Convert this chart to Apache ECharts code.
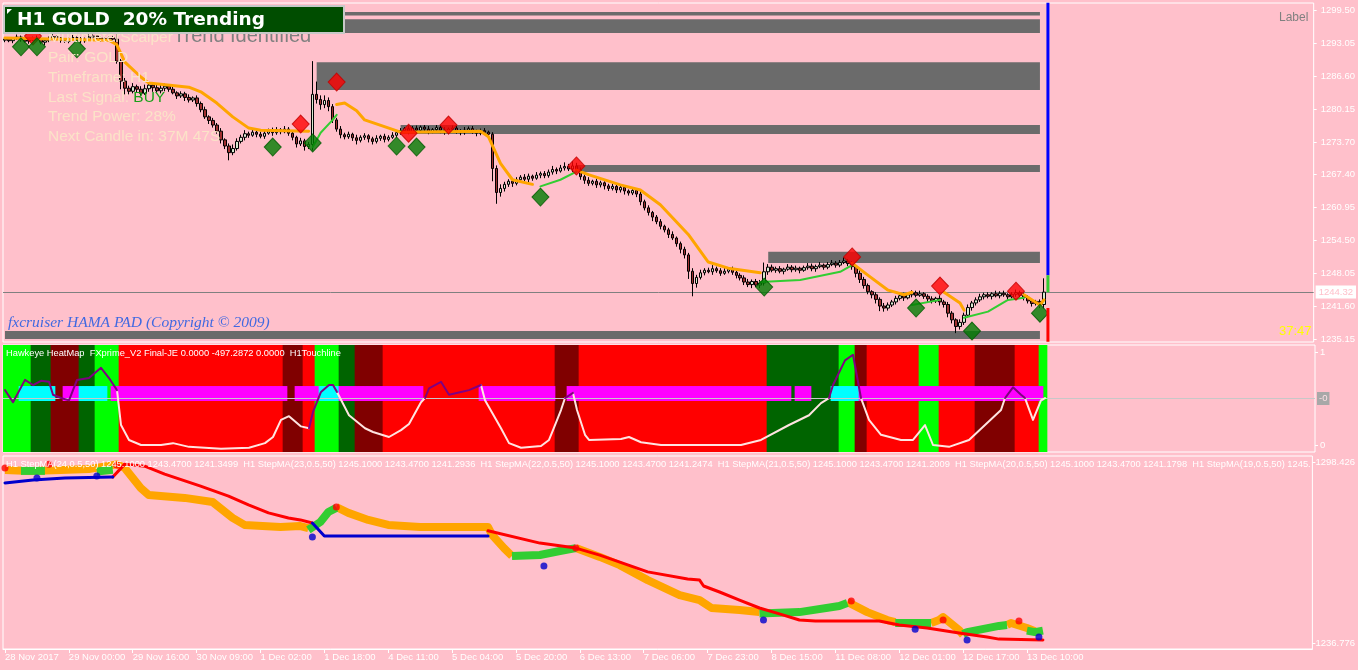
<!DOCTYPE html>
<html><head><meta charset="utf-8">
<script src="https://cdn.jsdelivr.net/npm/echarts@6/dist/echarts.min.js"></script>
<style>html,body{margin:0;padding:0;background:#ffc0cb;}#c{width:1358px;height:670px;}</style>
</head><body><div id="c"></div>
<script>
// ---------------- DATA ----------------
const slotCount = 328;
const categories = [];
for (let i = 0; i < slotCount; i++) categories.push(String(i));
const xTickLabels = ['28 Nov 2017','29 Nov 00:00','29 Nov 16:00','30 Nov 09:00','1 Dec 02:00','1 Dec 18:00','4 Dec 11:00','5 Dec 04:00','5 Dec 20:00','6 Dec 13:00','7 Dec 06:00','7 Dec 23:00','8 Dec 15:00','11 Dec 08:00','12 Dec 01:00','12 Dec 17:00','13 Dec 10:00'];
const priceTicks = [1299.50,1293.05,1286.60,1280.15,1273.70,1267.40,1260.95,1254.50,1248.05,1241.60,1235.15];
const heatTicks = [0, 1];
const stepTicks = [1236.776, 1298.426];
const currentPrice = 1244.32;
const firstOpen = 1293.6;

const closes = [
1293.8,1293.5,1293.9,1294.2,1293.7,1293.4,1293.6,1294.0,1293.8,1293.2,
1293.5,1293.9,1294.3,1294.0,1293.6,1293.4,1293.8,1294.1,1293.9,1293.5,
1293.7,1294.2,1294.4,1294.0,1293.7,1293.9,1294.1,1293.8,
1289.5,1285.6,1284.2,1283.6,1284.5,1284.0,1283.2,1284.1,1284.8,1284.3,1283.7,1284.2,1284.6,
1284.0,1283.3,1282.7,1283.1,1282.4,1281.9,1282.3,1281.2,1280.0,1278.6,1277.9,1277.0,
1275.8,1274.1,1272.9,1271.6,1272.4,1273.8,
1274.6,1275.3,1275.0,1275.6,1275.2,1274.8,1275.4,1275.9,1275.5,1276.1,1275.7,1276.2,
1275.4,1274.6,1273.3,1273.9,1272.8,1273.2,1283.0,1282.0,1281.0,1281.8,1280.6,1278.0,1276.2,1275.1,
1274.7,1275.2,1274.5,1274.0,1274.6,1274.9,1274.3,1273.8,1274.4,1274.8,1274.2,1274.6,1275.0,1275.5,
1275.9,1276.3,1275.8,1276.4,1276.0,1276.6,1276.2,1275.7,1276.1,1276.5,
1276.0,1275.6,1276.2,1276.4,1275.9,1275.5,1276.0,1276.3,1275.8,1275.4,
1275.9,1275.6,1275.2,
1268.5,1263.8,1264.6,1265.4,1266.0,1265.6,1266.3,1266.8,1266.4,1267.0,1266.6,1267.2,1267.5,1267.1,
1267.8,1268.3,1268.0,1268.6,1268.9,1268.4,1269.0,1268.2,1266.9,1266.2,1265.6,1266.0,1265.3,1265.7,1265.1,
1264.6,1265.0,1264.3,1264.8,1264.1,1263.7,1264.2,1263.5,1262.0,1260.8,1259.9,1259.0,1258.1,
1257.2,1256.5,1255.6,1254.9,1253.8,1252.7,1251.6,1248.4,1246.0,1247.2,
1248.1,1248.6,1248.3,1248.9,1248.5,1248.0,1248.4,1248.8,1248.2,1247.6,1247.1,1246.3,1245.8,1246.4,1245.7,1246.1,
1248.3,1249.2,1248.6,1248.9,1248.4,1248.8,1249.2,1248.7,1249.0,1248.6,1249.1,1249.4,1248.9,1249.3,1249.6,1249.2,1249.7,1250.0,1249.6,1250.1,1250.4,1249.9,
1249.3,1248.0,1246.8,1245.6,1244.4,1243.8,1242.9,1241.6,1241.2,1241.8,1242.4,
1243.1,1243.6,1243.2,1243.8,1244.2,1243.7,1244.0,1243.5,1243.0,1242.6,1243.1,1242.4,1241.9,
1240.2,1238.9,1237.6,1238.4,1239.8,1241.3,1242.2,1242.8,1243.4,
1243.8,1243.5,1244.0,1243.6,1244.1,1243.8,1243.4,1243.9,1244.2,1243.7,1243.3,1242.6,1242.1,1242.5,1241.9,1244.32
];
const wickUp = [
0.3,0.4,0.2,0.5,0.3,0.2,0.4,0.3,0.5,0.3,
0.2,0.4,0.6,0.3,0.2,0.4,0.3,0.5,0.2,0.3,
0.4,0.6,0.3,0.2,0.4,0.3,0.5,0.4,
1.8,0.4,0.6,0.5,0.7,0.4,0.6,0.8,0.5,0.4,0.6,0.7,0.5,
0.4,0.6,0.3,0.5,0.4,0.6,0.3,0.5,0.4,0.6,0.3,0.5,
0.4,0.6,0.3,0.5,0.8,0.6,
0.5,0.7,0.4,0.6,0.3,0.5,0.7,0.4,0.6,0.5,0.3,0.6,
0.4,0.5,0.3,0.6,0.4,0.5,6.5,2.5,0.8,1.0,0.6,0.5,0.4,0.6,
0.4,0.5,0.3,0.6,0.4,0.5,0.3,0.4,0.6,0.3,0.5,0.4,0.6,0.4,
0.5,0.3,0.6,0.4,0.5,0.3,0.4,0.6,0.3,0.5,
0.4,0.6,0.3,0.5,0.4,0.3,0.6,0.4,0.5,0.3,
0.4,0.5,0.3,
0.4,0.6,0.8,0.5,0.4,0.6,0.5,0.4,0.6,0.5,0.3,0.6,0.4,0.5,
0.5,0.7,0.4,0.6,0.8,0.5,0.9,0.6,0.5,0.4,0.6,0.3,0.5,0.4,0.3,
0.4,0.5,0.3,0.6,0.4,0.3,0.5,0.4,0.6,0.4,0.5,0.3,0.4,
0.5,0.3,0.4,0.6,0.3,0.4,0.5,0.4,0.6,0.5,
0.6,0.4,0.5,0.7,0.4,0.5,0.6,0.4,0.5,0.3,0.4,0.5,0.6,0.4,0.5,0.6,
1.8,0.6,0.5,0.4,0.5,0.3,0.6,0.4,0.5,0.3,0.4,0.6,0.5,0.4,0.6,0.3,0.5,0.6,0.4,0.5,0.7,0.4,
0.5,0.4,0.6,0.5,0.4,0.3,0.5,0.4,0.6,0.5,0.4,
0.5,0.4,0.6,0.3,0.5,0.4,0.6,0.3,0.4,0.5,0.3,0.6,0.4,
0.5,0.4,0.3,0.6,0.5,0.6,0.4,0.5,0.6,
0.4,0.5,0.3,0.6,0.4,0.5,0.3,0.4,0.6,0.4,0.5,0.4,0.5,0.3,0.4,2.7
];
const wickDn = [
0.4,0.3,0.5,0.2,0.4,0.3,0.5,0.2,0.3,0.4,
0.6,0.3,0.2,0.4,0.5,0.3,0.4,0.2,0.3,0.5,
0.4,0.2,0.3,0.5,0.4,0.3,0.2,0.4,
0.5,1.6,1.2,0.6,0.4,0.7,0.5,0.3,0.6,0.8,0.4,0.5,0.6,
0.5,0.3,0.6,0.4,0.7,0.5,0.4,0.6,0.5,0.4,0.7,0.5,
0.5,0.7,0.6,1.5,0.5,0.4,
0.4,0.6,0.5,0.3,0.6,0.4,0.5,0.3,0.6,0.4,0.5,0.3,
0.5,0.6,0.7,0.4,0.8,0.5,1.2,0.8,1.0,0.7,0.9,0.6,0.5,0.7,
0.5,0.4,0.6,0.8,0.4,0.5,0.7,0.6,0.4,0.5,0.6,0.4,0.3,0.5,
0.4,0.5,0.6,0.3,0.5,0.4,0.6,0.5,0.3,0.4,
0.6,0.5,0.4,0.3,0.6,0.5,0.4,0.3,0.5,0.6,
0.4,0.3,0.5,
2.5,2.2,0.8,0.6,0.5,0.7,0.4,0.5,0.4,0.6,0.5,0.3,0.6,0.5,
0.4,0.5,0.6,0.3,0.5,0.4,0.6,0.5,0.6,0.7,0.5,0.4,0.6,0.5,0.7,
0.5,0.4,0.6,0.5,0.7,0.5,0.4,0.6,0.7,0.5,0.6,0.8,0.5,
0.6,0.5,0.7,0.4,0.6,0.8,0.7,1.5,2.5,0.8,
0.4,0.5,0.3,0.6,0.4,0.5,0.3,0.4,0.5,0.6,0.5,0.6,0.5,0.7,0.4,0.6,
0.5,0.6,0.4,0.5,0.4,0.6,0.3,0.5,0.4,0.6,0.3,0.4,0.5,0.6,0.3,0.5,0.4,0.3,0.5,0.4,0.3,0.5,
0.6,0.8,0.7,0.6,0.5,0.7,0.8,1.0,0.7,0.5,0.4,
0.5,0.4,0.6,0.3,0.5,0.4,0.3,0.5,0.6,0.5,0.4,0.7,0.6,
0.8,0.7,1.3,0.6,0.5,0.4,0.6,0.5,0.4,
0.5,0.4,0.6,0.3,0.5,0.4,0.6,0.3,0.5,0.4,0.6,0.5,0.6,0.4,0.7,0.8
];

// supply/demand zones: [startBar, endBar, low, high]
const zones = [[85,259,1298.4,1299.1],[85,259,1295.0,1297.7],[78,259,1283.85,1289.3],[99,259,1275.25,1277.0],[143,259,1267.8,1269.2],[191,259,1250.0,1252.2],[0,259,1235.15,1236.7]];

const topOrange = [
 [[0,1294.0],[26,1293.6],[28,1292.7],[30,1289.3],[34,1286.4],[36,1285.2],[46,1284.4],[49,1283.5],[53,1281.3],[57,1278.6],[61,1276.4],[64,1276.0],[76,1275.8]],
 [[83,1281.0],[85,1281.3],[88,1279.8],[90,1278.0],[99,1275.6],[119,1275.8],[121,1274.7],[124,1269.5],[127,1266.3],[132,1265.4]],
 [[143,1268.2],[146,1267.3],[154,1265.3],[159,1264.3],[164,1261.4],[171,1255.6],[176,1250.2],[181,1249.0],[189,1248.1]],
 [[212,1250.0],[216,1247.6],[221,1244.7],[225,1243.8],[227,1244.3]],
 [[235,1244.3],[239,1242.2],[240,1240.8]],
 [[255,1243.8],[259,1241.8],[260,1242.8]]
];
const topGreen = [
 [[77,1272.7],[79,1275.5],[82,1278.0],[83,1279.0]],
 [[134,1265.0],[139,1266.3],[143,1267.9]],
 [[189,1246.3],[199,1246.7],[209,1248.3],[212,1249.6]],
 [[227,1241.8],[234,1242.8]],
 [[240,1239.3],[246,1240.5],[251,1242.8],[255,1243.2]]
];
const sellSignals = [[7,1294.4],[74,1277.2],[83,1285.4],[101,1275.4],[111,1277.0],[143,1269.0],[212,1251.2],[234,1245.5],[253,1244.5]];
const buySignals = [[4,1292.3],[8,1292.3],[18,1291.9],[67,1272.7],[77,1273.5],[98,1272.9],[103,1272.7],[134,1262.9],[190,1245.3],[228,1241.2],[242,1236.7],[259,1240.2]];
// last-bar strength bar: [from, to, state]
const lastBarStrength = [[1300.9,1247.6,'up'],[1247.6,1244.3,'flat'],[1241.2,1234.6,'down']];

// heat map runs [state, bars]
const heatRuns = [['bullStrong',7],['bullWeak',5],['bearWeak',7],['bullWeak',4],['bullStrong',6],['bearStrong',41],['bearWeak',5],['bearStrong',3],['bullStrong',6],['bullWeak',4],['bearWeak',7],['bearStrong',43],['bearWeak',6],['bearStrong',47],['bullWeak',18],['bullStrong',4],['bearWeak',3],['bearStrong',13],['bullStrong',5],['bearStrong',9],['bearWeak',10],['bearStrong',6],['bullStrong',2]];
// touchline histogram blocks [startBar, endBar (inclusive), state]
const histBlocks = [[4,12,'touchUp'],[15,18,'touchDown'],[19,25,'touchUp'],[27,70,'touchDown'],[73,78,'touchDown'],[79,83,'touchUp'],[84,104,'touchDown'],[119,137,'touchDown'],[141,196,'touchDown'],[198,201,'touchDown'],[207,213,'touchUp'],[214,259,'touchDown']];
const histLow = 0.473, histHigh = 0.634, touchLevel = 0.5;
const heatPurple = [
 [[0,0.59],[2,0.46],[5,0.70],[7,0.645],[9,0.69],[11,0.68],[12,0.54],[14,0.505],[16,0.48],[18,0.70],[21,0.72],[24,0.83],[26,0.72],[28,0.59]],
 [[76,0.18],[77,0.355],[79,0.57],[81,0.645],[82,0.645],[83,0.57]],
 [[105,0.505],[106,0.61],[109,0.68],[111,0.54],[114,0.57],[116,0.59],[119,0.645]],
 [[140,0.505],[142,0.56]],
 [[206,0.505],[207,0.645],[210,0.91],[212,0.97],[214,0.505]],
 [[250,0.505],[252,0.62],[254,0.54],[255,0.505]]
];
const heatWhite = [
 [[28,0.59],[29,0.215],[31,0.054],[34,0.0],[39,0.0],[42,0.02],[46,-0.02],[54,-0.04],[61,-0.03],[65,0.02],[67,0.086],[69,0.27],[71,0.31],[74,0.20],[76,0.18]],
 [[83,0.57],[86,0.32],[90,0.18],[92,0.14],[96,0.086],[99,0.16],[101,0.225],[104,0.46],[105,0.505]],
 [[119,0.645],[120,0.48],[124,0.18],[126,0.02],[129,-0.03],[134,-0.01],[136,0.054],[137,0.16],[139,0.376],[140,0.505]],
 [[142,0.56],[143,0.376],[145,0.11],[146,0.054],[154,0.065],[156,0.086],[159,0.03],[164,0.0],[174,0.0],[184,0.0],[189,0.054],[196,0.215],[201,0.32],[204,0.45],[206,0.505]],
 [[214,0.505],[216,0.27],[219,0.11],[224,0.054],[227,0.054],[230,0.215],[232,0.0],[236,-0.02],[241,0.054],[245,0.215],[249,0.376],[250,0.505]],
 [[255,0.505],[257,0.27],[259,0.48],[260,0.505]]
];

// StepMA panel
const botOrange = [
 [[0,1295.7],[6,1295.4],[14,1295.7],[21,1296.0],[28,1297.6],[30,1296.4],[34,1289.6],[36,1287.2],[45,1286.2],[52,1284.8],[57,1279.4],[60,1277.0],[69,1276.3],[74,1276.6],[76,1275.9]],
 [[83,1283.1],[86,1281.1],[91,1278.7],[96,1277.0],[104,1276.3],[121,1276.3],[122,1273.6],[125,1269.1],[127,1266.4]],
 [[143,1269.1],[149,1266.1],[154,1263.3],[161,1258.2],[169,1253.1],[174,1251.4],[177,1248.7],[184,1248.0],[189,1247.3]],
 [[211,1250.8],[216,1247.3],[221,1244.6],[223,1243.9]],
 [[232,1243.6],[234,1244.6],[235,1245.6],[239,1241.2],[240,1239.5]],
 [[251,1242.9],[252,1243.6],[256,1241.9],[258,1240.8]]
];
const botGreen = [
 [[4,1295.4],[10,1295.4]],
 [[23,1295.2],[27,1295.8]],
 [[76,1275.3],[79,1278.0],[81,1281.4],[83,1282.8]],
 [[127,1266.4],[134,1266.75],[139,1268.1],[143,1269.1]],
 [[189,1246.8],[199,1247.3],[209,1249.4],[211,1250.4]],
 [[223,1243.6],[232,1243.6]],
 [[240,1239.8],[241,1240.5],[249,1242.6],[251,1242.9]],
 [[256,1241.0],[258,1240.5],[260,1241.0]]
];
const botRed = [
 [[27,1293.3],[30,1297.7],[35,1297.0],[40,1294.3],[49,1290.2],[56,1286.8],[61,1283.8],[66,1281.1],[71,1279.35],[74,1278.7],[77,1277.65]],
 [[121,1275.0],[134,1270.8],[143,1269.1],[149,1266.7],[161,1261.0],[171,1258.6],[174,1258.2],[175,1256.2],[179,1254.15],[184,1251.4],[189,1248.7],[194,1246.7],[199,1244.6],[203,1244.3],[219,1244.3],[224,1242.9],[231,1241.9],[239,1240.2],[246,1238.8],[249,1238.1],[260,1237.8]]
];
const botBlue = [
 [[0,1291.3],[7,1292.3],[15,1293.0],[27,1293.3]],
 [[77,1277.65],[80,1273.2],[121,1273.2]]
];
const botRedDots = [[0,1296.4],[11,1297.7],[28,1297.4],[83,1283.1],[143,1269.1],[212,1251.1],[235,1244.6],[254,1244.3]];
const botBlueDots = [[8,1293.0],[23,1293.7],[77,1272.9],[135,1263.0],[190,1244.6],[228,1241.5],[241,1237.8],[259,1238.8]];

const stepHeader = 'H1 StepMA(24,0.5,50) 1245.1000 1243.4700 1241.3499  H1 StepMA(23,0.5,50) 1245.1000 1243.4700 1241.2936  H1 StepMA(22,0.5,50) 1245.1000 1243.4700 1241.2474  H1 StepMA(21,0.5,50) 1245.1000 1243.4700 1241.2009  H1 StepMA(20,0.5,50) 1245.1000 1243.4700 1241.1798  H1 StepMA(19,0.5,50) 1245.1000 1243.4700 1241.1500';
const heatHeader = 'Hawkeye HeatMap  FXprime_V2 Final-JE 0.0000 -497.2872 0.0000  H1Touchline';

// ---------------- BUILD ----------------
const FONT = 'Liberation Sans';
const candles = closes.map((c, i) => {
  const o = i === 0 ? firstOpen : closes[i - 1];
  return [o, c, Math.min(o, c) - wickDn[i], Math.max(o, c) + wickUp[i]];
});
const heatColor = {bullStrong:'#00ff00', bullWeak:'#006400', bearWeak:'#800000', bearStrong:'#ff0000'};
const histColor = {touchUp:'#00ffff', touchDown:'#ff00ff'};
const strengthColor = {up:'#0000ff', flat:'#32cd32', down:'#ff0000'};

const heatMax = 1 + 7/93, heatMin = -7/93;
const heatTop = [], heatBot = [];
heatRuns.forEach(([s, n]) => {
  for (let k = 0; k < n; k++) {
    const col = heatColor[s];
    heatTop.push({value: heatMax, itemStyle:{color: col}});
    heatBot.push({value: heatMin, itemStyle:{color: col}});
  }
});
const histBase = [], histBody = [];
for (let i = 0; i < closes.length; i++) { histBase.push('-'); histBody.push('-'); }
histBlocks.forEach(([a, b, s]) => {
  for (let i = a; i <= b; i++) {
    histBase[i] = {value: histLow, itemStyle:{color:'rgba(0,0,0,0)'}};
    histBody[i] = {value: histHigh - histLow, itemStyle:{color: histColor[s]}};
  }
});

const showTick = (idx) => idx % 16 === 0 && idx / 16 < xTickLabels.length;

function lines(segs, g, color, width, z, cap) {
  return segs.map(seg => ({type:'line', xAxisIndex:g, yAxisIndex:g, data:seg, symbol:'none', silent:true, z:z,
    lineStyle:{color:color, width:width, cap:cap||'round', join:'round'}}));
}

const xAxes = [0,1,2].map(g => ({
  type:'category', gridIndex:g, data:categories, boundaryGap:true,
  axisLine:{show: g===2, lineStyle:{color:'#ffffff'}},
  axisTick:{show: g===2, alignWithLabel:true, interval: showTick, length:4, lineStyle:{color:'#ffffff'}},
  axisLabel:{show: g===2, interval: showTick, align:'left', margin:3, color:'#ffffff', fontSize:9.5, fontFamily:FONT,
    formatter:(v, idx) => xTickLabels[Math.round(idx/16)]},
  splitLine:{show:false}
}));
function yAx(g, min, max, ticks, fmt, margin) {
  return {type:'value', gridIndex:g, position:'right', min:min, max:max, scale:true,
    axisLine:{show:false}, splitLine:{show:false},
    axisTick:{show:true, customValues:ticks, length:3, lineStyle:{color:'#ffffff'}},
    axisLabel:{show:true, customValues:ticks, formatter:fmt, margin:margin, color:'#ffffff', fontSize:9.5, fontFamily:FONT}};
}
const topMax = 1299.5 + 7/5.113, topMin = 1235.15 - 3/5.113;
const botMax = 1298.426 + 6/2.936, botMin = 1236.776 - 6/2.936;

const series = [];
// top: candles with zones and current price
series.push({
  type:'candlestick', xAxisIndex:0, yAxisIndex:0, data:candles, barWidth:3, silent:true, z:3,
  itemStyle:{color:'#d8e8d0', color0:'#a03030', borderColor:'#000000', borderColor0:'#000000', borderWidth:1},
  markArea:{silent:true, z:1, itemStyle:{color:'#6b6b6b'},
    data: zones.map(zn => [{xAxis:zn[0], yAxis:zn[2]}, {xAxis:zn[1], yAxis:zn[3]}])},
  markLine:{silent:true, symbol:'none', z:2, lineStyle:{color:'#808080', width:1, type:'solid'},
    label:{show:true, position:'end', distance:2, formatter: currentPrice.toFixed(2), color:'#ffc0cb', backgroundColor:'#ffffff',
      padding:[2,3,1,3], fontSize:9.5, fontFamily:FONT},
    data:[{yAxis: currentPrice}]}
});
series.push(...lines(topOrange, 0, '#ffa500', 3, 4));
series.push(...lines(topGreen, 0, '#32cd32', 2, 4));
series.push({type:'scatter', xAxisIndex:0, yAxisIndex:0, data:sellSignals, symbol:'diamond', symbolSize:[17,18], silent:true, z:6,
  itemStyle:{color:'#ff0000', borderColor:'#c00000', borderWidth:1}});
series.push({type:'scatter', xAxisIndex:0, yAxisIndex:0, data:buySignals, symbol:'diamond', symbolSize:[17,18], silent:true, z:6,
  itemStyle:{color:'#007a00', borderColor:'#005a00', borderWidth:1}});
lastBarStrength.forEach(([a, b, s]) => {
  series.push({type:'line', xAxisIndex:0, yAxisIndex:0, data:[[closes.length - 1 + 0.5, a],[closes.length - 1 + 0.5, b]], symbol:'none', silent:true, z:7,
    lineStyle:{color:strengthColor[s], width:3, cap:'butt'}});
});

// middle: heat map + touchline histogram
const BW = 4.7;
series.push({type:'bar', xAxisIndex:1, yAxisIndex:1, data:heatTop, barWidth:BW, barGap:'-100%', silent:true, z:1});
series.push({type:'bar', xAxisIndex:1, yAxisIndex:1, data:heatBot, barWidth:BW, barGap:'-100%', silent:true, z:1,
  markLine:{silent:true, symbol:'none', z:4, lineStyle:{color:'#c8c8c8', width:1, type:'solid'},
    label:{show:true, position:'end', distance:2, formatter:'-0', color:'#ffe0e6', backgroundColor:'#a8a8a8', padding:[2,2,1,2], fontSize:9.5, fontFamily:FONT},
    data:[{yAxis: touchLevel}]}
});
series.push({type:'bar', xAxisIndex:1, yAxisIndex:1, data:histBase, stack:'hist', barWidth:BW, barGap:'-100%', silent:true, z:2});
series.push({type:'bar', xAxisIndex:1, yAxisIndex:1, data:histBody, stack:'hist', barWidth:BW, barGap:'-100%', silent:true, z:2});
series.push(...lines(heatWhite, 1, '#ffe4e1', 2, 6));
series.push(...lines(heatPurple, 1, '#800080', 2, 7));

// bottom: StepMA
series.push(...lines(botOrange, 2, '#ffa500', 8, 2, 'butt'));
series.push(...lines(botGreen, 2, '#32cd32', 8, 3, 'butt'));
series.push(...lines(botRed, 2, '#ff0000', 3, 5));
series.push(...lines(botBlue, 2, '#0000cd', 3, 5));
series.push({type:'scatter', xAxisIndex:2, yAxisIndex:2, data:botRedDots, symbol:'circle', symbolSize:7, silent:true, z:8, itemStyle:{color:'#ff0000'}});
series.push({type:'scatter', xAxisIndex:2, yAxisIndex:2, data:botBlueDots, symbol:'circle', symbolSize:7, silent:true, z:8, itemStyle:{color:'#0000cd'}});

const infoFill = '#fbe3c8';
const graphic = [
  {type:'text', x:48, y:38, z:100, silent:true, style:{text:'MultimeterScalper', fill:infoFill, font:'15.5px "Liberation Sans"', verticalAlign:'middle'}},
  {type:'text', x:173, y:36, z:100, silent:true, style:{text:'Trend Identified', fill:'#808080', font:'20px "Liberation Sans"', verticalAlign:'middle'}},
  {type:'text', x:48, y:58, z:100, silent:true, style:{text:'Pair: GOLD', fill:infoFill, font:'15.5px "Liberation Sans"', verticalAlign:'middle'}},
  {type:'text', x:48, y:78, z:100, silent:true, style:{text:'Timeframe: H1', fill:infoFill, font:'15.5px "Liberation Sans"', verticalAlign:'middle'}},
  {type:'text', x:48, y:98, z:100, silent:true, style:{text:'Last Signal: {b|BUY}', fill:infoFill, font:'15.5px "Liberation Sans"', verticalAlign:'middle',
     rich:{b:{fill:'#18a018', font:'15.5px "Liberation Sans"'}}}},
  {type:'text', x:48, y:117, z:100, silent:true, style:{text:'Trend Power: 28%', fill:infoFill, font:'15.5px "Liberation Sans"', verticalAlign:'middle'}},
  {type:'text', x:48, y:137, z:100, silent:true, style:{text:'Next Candle in: 37M 47S', fill:infoFill, font:'15.5px "Liberation Sans"', verticalAlign:'middle'}},
  {type:'rect', z:101, silent:true, shape:{x:4, y:6, width:340, height:27}, style:{fill:'#004d00', stroke:'#c8c8c8', lineWidth:2}},
  {type:'polygon', z:102, silent:true, shape:{points:[[7,9],[12,9],[7,14]]}, style:{fill:'#ffffff'}},
  {type:'text', x:17, y:20, z:102, silent:true, style:{text:'H1 GOLD  20% Trending', fill:'#ffffff', font:'bold 18.5px "DejaVu Sans"', verticalAlign:'middle'}},
  {type:'text', x:1279, y:18, z:100, silent:true, style:{text:'Label', fill:'#808080', font:'12px "Liberation Sans"', verticalAlign:'middle'}},
  {type:'text', x:8, y:323, z:100, silent:true, style:{text:'fxcruiser HAMA PAD (Copyright \u00a9 2009)', fill:'#4169e1', font:'italic 15.5px "Liberation Serif"', verticalAlign:'middle'}},
  {type:'text', x:1279, y:331, z:100, silent:true, style:{text:'37:47', fill:'#ffff00', font:'13px "Liberation Sans"', verticalAlign:'middle'}},
  {type:'text', x:6, y:353, z:100, silent:true, style:{text:heatHeader, fill:'#ffffff', font:'9.3px "Liberation Sans"', verticalAlign:'middle'}},
  {type:'text', x:6, y:464, z:100, silent:true, style:{text:stepHeader, fill:'#ffffff', font:'9.3px "Liberation Sans"', verticalAlign:'middle', width:1307, overflow:'truncate', ellipsis:''}}
];

const option = {
  backgroundColor:'#ffc0cb',
  animation:false,
  grid:[
    {left:3, right:43, top:3, height:339, show:true, borderColor:'#ffffff', borderWidth:1, containLabel:false},
    {left:3, right:43, top:345, height:107, show:true, borderColor:'#ffffff', borderWidth:1},
    {left:3, right:43, top:456, height:193, show:true, borderColor:'#ffffff', borderWidth:1}
  ],
  xAxis: xAxes,
  yAxis: [
    yAx(0, topMin, topMax, priceTicks, v => v.toFixed(2), 7),
    yAx(1, heatMin, heatMax, heatTicks, v => String(Math.round(v)), 5),
    yAx(2, botMin, botMax, stepTicks, v => v.toFixed(3), 3)
  ],
  series: series,
  graphic: graphic
};
const chart = echarts.init(document.getElementById('c'), null, {renderer:'canvas'});
chart.setOption(option);
</script></body></html>
